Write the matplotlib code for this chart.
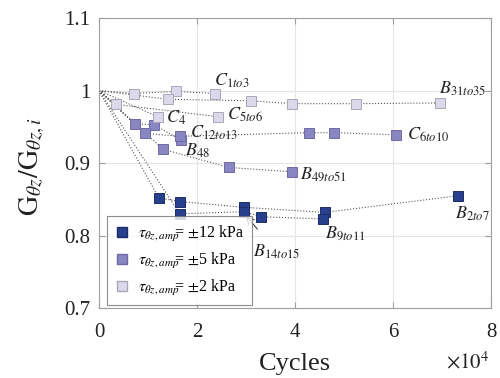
import matplotlib
matplotlib.use("Agg")
import matplotlib.pyplot as plt
from matplotlib.lines import Line2D

plt.rcParams['font.family'] = ['Liberation Serif', 'DejaVu Serif']
plt.rcParams['mathtext.fontset'] = 'stix'

# Data (cycles in units of 1e4, normalized shear modulus)
# tau = +-12 kPa
b2to7_x = [0, 1.22, 1.65, 2.96, 4.61, 7.33]
b2to7_y = [1.0, 0.852, 0.847, 0.839, 0.832, 0.855]
b9to11_x = [0, 1.65, 2.96, 3.31, 4.57]
b9to11_y = [1.0, 0.830, 0.833, 0.826, 0.823]
# tau = +-5 kPa
c12to13_x = [0, 0.73, 1.12, 1.67]
c12to13_y = [1.0, 0.954, 0.953, 0.932]
c6to10_x = [0, 0.94, 1.65, 4.29, 4.80, 6.06]
c6to10_y = [1.0, 0.941, 0.937, 0.942, 0.942, 0.939]
b48to51_x = [0, 1.31, 2.65, 3.94]
b48to51_y = [1.0, 0.919, 0.894, 0.888]
# tau = +-2 kPa
c1to3_x = [0, 0.71, 1.57, 2.37]
c1to3_y = [1.0, 0.996, 0.999, 0.996]
b31to35_x = [0, 1.41, 3.10, 3.94, 5.24, 6.96]
b31to35_y = [1.0, 0.988, 0.986, 0.982, 0.982, 0.983]
c4_x = [0, 1.20]
c4_y = [1.0, 0.964]
c5to6_x = [0, 0.35, 2.43]
c5to6_y = [1.0, 0.981, 0.964]

dark = '#283f8e'
mid = '#8a86c2'
light = '#dcd8ec'

fig = plt.figure(figsize=(5, 3.78), dpi=100)
ax = fig.add_axes([0.198, 0.185, 0.784, 0.767])

groups = [
    (dark, '#1c2d6a', [(b2to7_x, b2to7_y), (b9to11_x, b9to11_y)]),
    (mid, '#6e6aa6', [(c12to13_x, c12to13_y), (c6to10_x, c6to10_y), (b48to51_x, b48to51_y)]),
    (light, '#a9a6b8', [(c1to3_x, c1to3_y), (b31to35_x, b31to35_y), (c4_x, c4_y), (c5to6_x, c5to6_y)]),
]
for fc, ec, series in groups:
    for xs, ys in series:
        ax.plot(xs, ys, ls=':', color='#555555', lw=0.8, zorder=2)
        ax.plot(xs[1:], ys[1:], ls='none', marker='s', ms=6.5, mfc=fc, mec=ec, mew=0.7, zorder=3)

labels = [
    (r'$C_{1to3}$', 2.35, 1.007),
    (r'$C_{4}$', 1.37, 0.956),
    (r'$C_{5to6}$', 2.61, 0.960),
    (r'$C_{12to13}$', 1.86, 0.935),
    (r'$B_{48}$', 1.76, 0.910),
    (r'$B_{49to51}$', 4.10, 0.879),
    (r'$C_{6to10}$', 6.29, 0.932),
    (r'$B_{31to35}$', 6.94, 0.996),
    (r'$B_{2to7}$', 7.27, 0.823),
    (r'$B_{9to11}$', 4.61, 0.797),
]
for t, x, y in labels:
    ax.text(x, y, t, fontsize=13, ha='left', va='baseline', color='#222222', zorder=4)

ax.annotate(r'$B_{14to15}$', xy=(2.98, 0.829), xytext=(3.14, 0.771),
            fontsize=13, ha='left', va='baseline', color='#222222',
            arrowprops=dict(arrowstyle='->', color='#444444', lw=0.8, shrinkA=10, shrinkB=1))

ax.set_xlim(0, 8)
ax.set_ylim(0.7, 1.1)
ax.set_xticks([0, 2, 4, 6, 8])
ax.set_yticks([0.7, 0.8, 0.9, 1.0, 1.1])
ax.set_xticklabels(['0', '2', '4', '6', '8'])
ax.set_yticklabels(['0.7', '0.8', '0.9', '1', '1.1'])
ax.grid(True, color='#e6e6e6', lw=0.8)
ax.set_axisbelow(True)
for s in ax.spines.values():
    s.set_color('#a0a0a0')
    s.set_linewidth(0.8)
ax.tick_params(direction='in', top=True, right=True, length=4, color='#a0a0a0',
               labelsize=15, labelcolor='#222222')
ax.tick_params(axis='x', pad=11)
ax.tick_params(axis='y', pad=6)

ax.set_xlabel('Cycles', fontsize=19, color='#222222', labelpad=8)
fig.text(0.064, 0.56, r'$\mathrm{G}_{\theta z}/\mathrm{G}_{\theta z,i}$', fontsize=20,
         rotation=90, ha='center', va='center', color='#222222')
fig.text(0.978, 0.012, r'$\times 10^{4}$', fontsize=15, ha='right', va='bottom', color='#222222')

handles = [
    Line2D([], [], ls='none', marker='s', ms=6.5, mfc=dark, mec='#1c2d6a'),
    Line2D([], [], ls='none', marker='s', ms=6.5, mfc=mid, mec='#6e6aa6'),
    Line2D([], [], ls='none', marker='s', ms=6.5, mfc=light, mec='#a9a6b8'),
]
leg_labels = [r'$\tau_{\theta z,amp}\!\!$= $\pm$12 kPa',
              r'$\tau_{\theta z,amp}\!\!$= $\pm$5 kPa',
              r'$\tau_{\theta z,amp}\!\!$= $\pm$2 kPa']
leg = ax.legend(handles, leg_labels, loc='lower left', bbox_to_anchor=(0.02, 0.01),
                fontsize=11.5, frameon=True, fancybox=False, edgecolor='#707070',
                handlelength=1.0, handletextpad=0.5, borderpad=0.45, labelspacing=0.45,
                borderaxespad=0)
leg.get_frame().set_linewidth(0.8)

fig.savefig('out.png', dpi=100)
